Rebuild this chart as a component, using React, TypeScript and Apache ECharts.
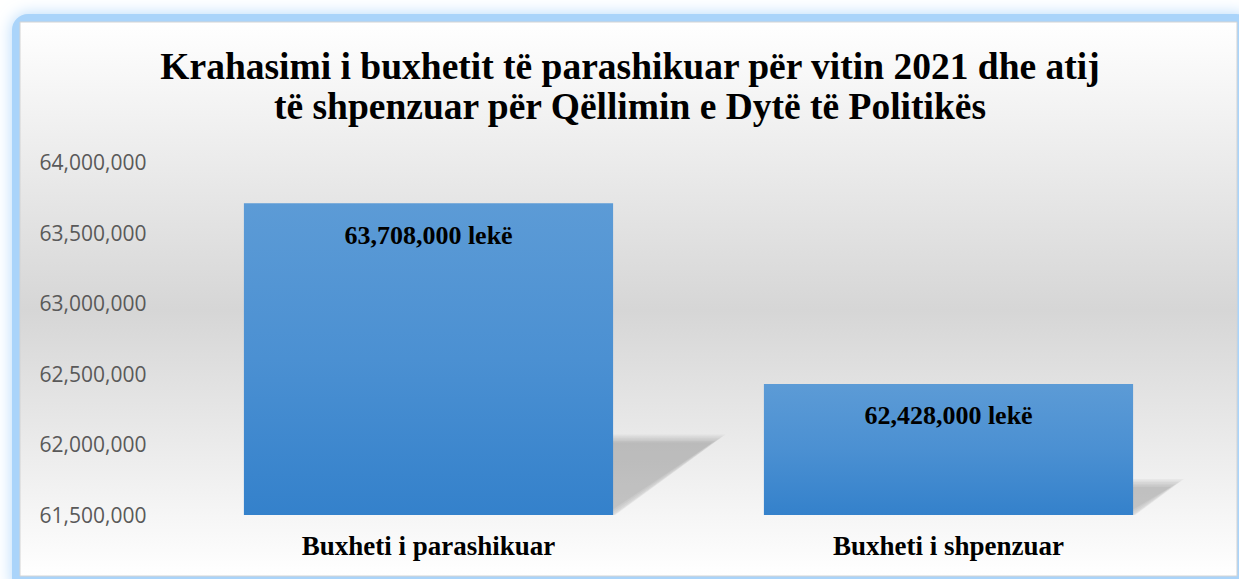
import React, { useEffect, useRef } from "react";
import * as echarts from "echarts";

const titleLines = [
  "Krahasimi i buxhetit të parashikuar për vitin 2021 dhe atij",
  "të shpenzuar për Qëllimin e Dytë të Politikës",
];
const categories = ["Buxheti i parashikuar", "Buxheti i shpenzuar"];
const values = [63708000, 62428000];
const yMin = 61500000;
const yMax = 64000000;
const yInterval = 500000;
const unit = "lekë";

const fmt = (v: number) => v.toLocaleString("en-US");

export default function App() {
  const ref = useRef<HTMLDivElement>(null);
  useEffect(() => {
    if (!ref.current) return;
    const chart = echarts.init(ref.current, undefined, { renderer: "svg" });
    const serif = "'Liberation Serif', 'Times New Roman', serif";
    chart.setOption({
      animation: false,
      backgroundColor: "#ffffff",
      graphic: [
        {
          type: "rect",
          z: -10,
          silent: true,
          shape: { x: 12, y: 14, width: 1240, height: 580, r: 16 },
          style: {
            fill: "#aad4fa",
            shadowBlur: 16,
            shadowColor: "#b4d9fb",
          },
        },
        {
          type: "rect",
          z: -9,
          silent: true,
          shape: { x: 20, y: 22, width: 1217, height: 554 },
          style: {
            fill: new echarts.graphic.LinearGradient(0, 0, 0, 1, [
              { offset: 0, color: "#ffffff" },
              { offset: 0.52, color: "#d6d6d6" },
              { offset: 1, color: "#ffffff" },
            ]),
            stroke: "#d4d4d4",
            lineWidth: 1,
          },
        },
        {
          type: "text",
          z: 10,
          x: 630,
          y: 46,
          style: {
            text: titleLines.join("\n"),
            textAlign: "center",
            textVerticalAlign: "top",
            font: `bold 37.5px ${serif}`,
            lineHeight: 40,
            fill: "#000000",
          },
        },
      ],
      grid: { left: 168.5, right: 30.5, top: 162, bottom: 64 },
      xAxis: {
        type: "category",
        data: categories,
        axisLine: { show: false },
        axisTick: { show: false },
        axisLabel: {
          margin: 17,
          color: "#000000",
          fontFamily: serif,
          fontWeight: "bold",
          fontSize: 27,
        },
      },
      yAxis: {
        type: "value",
        min: yMin,
        max: yMax,
        interval: yInterval,
        axisLine: { show: false },
        axisTick: { show: false },
        splitLine: { show: false },
        axisLabel: {
          margin: 22,
          color: "#595959",
          fontFamily: "'Open Sans', sans-serif",
          fontSize: 21,
          formatter: (v: number) => fmt(v),
        },
      },
      series: [
        {
          type: "custom",
          z: 1,
          silent: true,
          data: values.map((v, i) => [i, v]),
          renderItem: (params: any, api: any) => {
            const idx = api.value(0);
            const val = api.value(1);
            const bottom = api.coord([idx, yMin]);
            const top = api.coord([idx, val]);
            const bw = api.size([1, 0])[0] * 0.71;
            const xl = bottom[0] - bw / 2;
            const xr = bottom[0] + bw / 2;
            const yb = bottom[1];
            const h = yb - top[1];
            const sx = h * 0.34;
            const sh = h * 0.245;
            const layers = [];
            const n = 6;
            for (let k = 0; k < n; k++) {
              const e = 4 - k * 1.6;
              layers.push({
                type: "polygon",
                shape: {
                  points: [
                    [xl, yb + Math.min(e, 0)],
                    [xr + e * 0.6, yb + Math.min(e, 0)],
                    [xr + sx + e * 1.6, yb - sh - e],
                    [xl + sx, yb - sh - e],
                  ],
                },
                style: { fill: "rgba(0,0,0,0.037)" },
              });
            }
            return { type: "group", children: layers };
          },
        },
        {
          type: "bar",
          z: 3,
          data: values,
          barWidth: "71%",
          itemStyle: {
            color: new echarts.graphic.LinearGradient(0, 0, 0, 1, [
              { offset: 0, color: "#5c9bd6" },
              { offset: 0.5, color: "#4b90d2" },
              { offset: 1, color: "#3481cb" },
            ]),
          },
          label: {
            show: true,
            position: "insideTop",
            distance: 19,
            color: "#000000",
            fontFamily: serif,
            fontWeight: "bold",
            fontSize: 26,
            formatter: (p: any) => `${fmt(p.value)} ${unit}`,
          },
        },
      ],
    });
    return () => chart.dispose();
  }, []);
  return (
    <div
      ref={ref}
      style={{ position: "fixed", left: 0, top: 0, width: 1239, height: 579 }}
    />
  );
}
